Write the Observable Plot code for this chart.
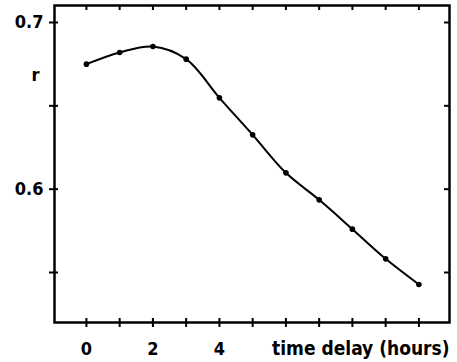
<!DOCTYPE html>
<html>
<head>
<meta charset="utf-8">
<script src="https://cdn.jsdelivr.net/npm/d3@7"></script>
<script src="https://cdn.jsdelivr.net/npm/@observablehq/plot@0.6"></script>
<style>
  html, body { margin: 0; padding: 0; background: white; }
  #chart { width: 457px; height: 362px; }
</style>
</head>
<body>
<div id="chart"></div>
<script>
// Data
const hours = [0, 1, 2, 3, 4, 5, 6, 7, 8, 9, 10];
const rValues = [0.675, 0.682, 0.6856, 0.678, 0.6548, 0.6326, 0.6098, 0.5936, 0.576, 0.5582, 0.5428];
const xTicks = [0, 1, 2, 3, 4, 5, 6, 7, 8, 9, 10];
const xTickLabels = [0, 2, 4];
const yTicks = [0.55, 0.6, 0.65, 0.7];
const yTickLabels = [0.6, 0.7];
const xLabel = "time delay (hours)";
const yLabel = "r";

const W = 457, H = 362;
const mL = 54, mT = 5, mR = 8, mB = 40;
const innerW = W - mL - mR, innerH = H - mT - mB;

const data = hours.map((h, i) => ({h, r: rValues[i]}));

const chart = Plot.plot({
  width: W,
  height: H,
  marginLeft: mL,
  marginTop: mT,
  marginRight: mR,
  marginBottom: mB,
  x: {domain: [-0.96, 10.92]},
  y: {domain: [0.52, 0.7102]},
  style: {
    fontFamily: "'DejaVu Sans Condensed', 'Liberation Sans', sans-serif",
    fontSize: "18px",
    fontWeight: "bold",
    color: "black",
    background: "white"
  },
  marks: [
    Plot.frame({stroke: "black", strokeWidth: 2.5}),
    Plot.axisX({ticks: xTicks, tickSize: 5, tickPadding: 15, strokeWidth: 2,
      tickFormat: d => xTickLabels.includes(d) ? String(d) : "", label: null}),
    Plot.tickX(xTicks, {x: d => d, insetTop: innerH - 4, strokeWidth: 2}),
    Plot.tickX(xTicks, {x: d => d, insetBottom: innerH - 5, strokeWidth: 2}),
    Plot.axisY({ticks: yTicks, tickSize: 5, tickPadding: 6, strokeWidth: 2,
      tickFormat: d => yTickLabels.includes(d) ? d.toFixed(1) : "", label: null}),
    Plot.tickY(yTicks, {y: d => d, insetRight: innerW - 4, strokeWidth: 2}),
    Plot.tickY(yTicks, {y: d => d, insetLeft: innerW - 5, strokeWidth: 2}),
    Plot.line(data, {x: "h", y: "r", curve: "catmull-rom", stroke: "black", strokeWidth: 2}),
    Plot.dot(data, {x: "h", y: "r", r: 2.8, fill: "black", stroke: null}),
    Plot.text([yLabel], {text: d => d, frameAnchor: "top-left", dx: -23, dy: 63, fontSize: 18, fontWeight: "bold"}),
    Plot.text([xLabel], {text: d => d, frameAnchor: "bottom-right", textAnchor: "end", lineAnchor: "top",
      dy: 19, dx: 0, fontSize: 19, fontWeight: "bold"})
  ]
});
document.getElementById("chart").appendChild(chart);
</script>
</body>
</html>
